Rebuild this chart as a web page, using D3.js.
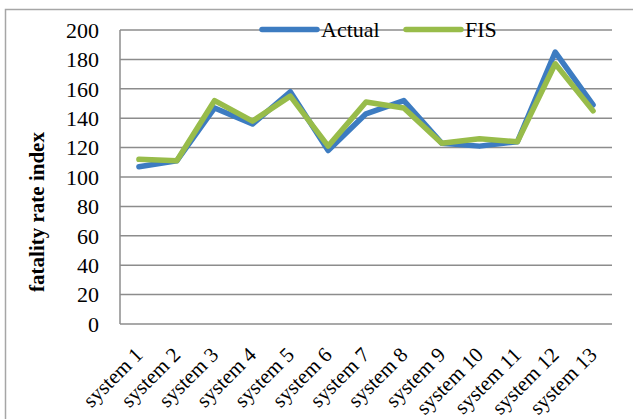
<!DOCTYPE html>
<html>
<head>
<meta charset="utf-8">
<script src="https://cdn.jsdelivr.net/npm/d3@7"></script>
<style>
    body { margin: 0; background: #fff; }
    svg { display: block; }
    svg text { font-family: "Liberation Serif", "Times New Roman", serif; fill: #000; }
</style>
</head>
<body>
<div id="chart"></div>
<script>
const categories = ["system 1", "system 2", "system 3", "system 4", "system 5", "system 6", "system 7",
    "system 8", "system 9", "system 10", "system 11", "system 12", "system 13"];
const actualValues = [107, 111, 147, 136, 158, 118, 143, 152, 123, 121, 124, 185, 149];
const fisValues = [112, 111, 152, 138, 155, 121, 151, 147, 123, 126, 124, 177, 145];
const yTicks = [0, 20, 40, 60, 80, 100, 120, 140, 160, 180, 200];

const seriesList = [
    { name: "Actual", values: actualValues, color: "#3D7CC1" },
    { name: "FIS", values: fisValues, color: "#98BC4A" }
];

const width = 633;
const height = 419;
const margin = { top: 30, right: 21, bottom: 95, left: 120 };

const svg = d3.select("#chart")
    .append("svg")
    .attr("width", width)
    .attr("height", height);

// outer frame
svg.append("rect")
    .attr("x", 5.5)
    .attr("y", 9.5)
    .attr("width", 640)
    .attr("height", 420)
    .attr("fill", "none")
    .attr("stroke", "#a6a6a6")
    .attr("stroke-width", 1.5);

const x = d3.scaleBand()
    .domain(categories)
    .range([margin.left, width - margin.right]);

const y = d3.scaleLinear()
    .domain([0, 200])
    .range([height - margin.bottom, margin.top]);

// gridlines
svg.append("g")
    .selectAll("line")
    .data(yTicks)
    .join("line")
    .attr("x1", margin.left)
    .attr("x2", width - margin.right)
    .attr("y1", d => y(d))
    .attr("y2", d => y(d))
    .attr("stroke", "#8c8c8c")
    .attr("stroke-width", 1.5);

// y axis line
svg.append("line")
    .attr("x1", margin.left)
    .attr("x2", margin.left)
    .attr("y1", y(0))
    .attr("y2", y(200))
    .attr("stroke", "#8c8c8c")
    .attr("stroke-width", 1.5);

// y tick labels
svg.append("g")
    .selectAll("text")
    .data(yTicks)
    .join("text")
    .attr("x", 99)
    .attr("y", d => y(d))
    .attr("dy", "0.35em")
    .attr("text-anchor", "end")
    .style("font-size", "22px")
    .text(d => d);

// y title
svg.append("text")
    .attr("transform", "translate(44, 212) rotate(-90)")
    .attr("text-anchor", "middle")
    .style("font-size", "21px")
    .style("font-weight", "bold")
    .text("fatality rate index");

// x labels
svg.append("g")
    .selectAll("text")
    .data(categories)
    .join("text")
    .attr("transform", d => `translate(${x(d) + x.bandwidth() / 2 + 5}, 356) rotate(-45)`)
    .attr("text-anchor", "end")
    .style("font-size", "21px")
    .text(d => d);

// lines
const line = d3.line()
    .x((d, i) => x(categories[i]) + x.bandwidth() / 2)
    .y(d => y(d));

svg.append("g")
    .selectAll("path")
    .data(seriesList)
    .join("path")
    .attr("d", d => line(d.values))
    .attr("fill", "none")
    .attr("stroke", d => d.color)
    .attr("stroke-width", 5.5)
    .attr("stroke-linejoin", "round")
    .attr("stroke-linecap", "round");

// legend
const legendPos = [262, 406];
const legend = svg.append("g")
    .selectAll("g")
    .data(seriesList)
    .join("g")
    .attr("transform", (d, i) => `translate(${legendPos[i]}, 29.5)`);

legend.append("line")
    .attr("x1", 0)
    .attr("x2", 55)
    .attr("stroke", d => d.color)
    .attr("stroke-width", 5.5)
    .attr("stroke-linecap", "round");

legend.append("text")
    .attr("x", 59)
    .attr("dy", "0.35em")
    .style("font-size", "22px")
    .text(d => d.name);
</script>
</body>
</html>
